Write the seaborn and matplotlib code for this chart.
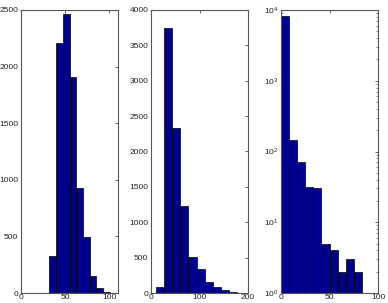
import numpy as np
import pandas as pd
import matplotlib
matplotlib.use("Agg")
import matplotlib.pyplot as plt
import seaborn as sns

# Panel 1 (linear)
edges1 = [32.3 + 7.59 * i for i in range(11)]
counts1 = [323, 2205, 2462, 1912, 926, 491, 153, 41, 12, 4]
# Panel 2 (linear)
edges2 = [9.7 + 16.85 * i for i in range(11)]
counts2 = [85, 3739, 2329, 1223, 503, 339, 151, 85, 38, 14]
# Panel 3 (log y)
edges3 = [0 + 8.35 * i for i in range(11)]
counts3 = [8220, 147, 72, 32, 30, 5, 4, 2, 3, 2]

sns.set_style("white")
plt.rcParams['font.family'] = ['Liberation Sans', 'DejaVu Sans']
plt.rcParams['font.size'] = 6
plt.rcParams['mathtext.fontset'] = 'custom'
plt.rcParams['mathtext.rm'] = 'Liberation Sans'

fig = plt.figure(figsize=(3.88, 3.03), dpi=100)
W, H = 388, 303
def add_ax(x0, x1, y0=10, y1=293):
    return fig.add_axes([x0 / W, (H - y1) / H, (x1 - x0) / W, (y1 - y0) / H])

ax1 = add_ax(21, 118)
ax2 = add_ax(151, 248)
ax3 = add_ax(281, 378)

face = (0.0, 0.0, 0.56)

def centers(e):
    return [(e[i] + e[i + 1]) / 2 for i in range(len(e) - 1)]

for ax, e, c in [(ax1, edges1, counts1), (ax2, edges2, counts2), (ax3, edges3, counts3)]:
    df = pd.DataFrame({"x": centers(e), "w": c})
    if ax is ax3:
        ax.set_yscale("log")
    sns.histplot(data=df, x="x", weights="w", bins=e, ax=ax, color=face,
                 edgecolor="black", linewidth=0.5, alpha=1.0, legend=False)
    ax.set_xlabel("")
    ax.set_ylabel("")
    for s in ax.spines.values():
        s.set_color("#555555")
        s.set_linewidth(0.8)
    ax.tick_params(direction="in", top=True, right=True, length=2.5, width=0.5,
                   labelsize=6, pad=2, colors="#222222")
    ax.tick_params(axis="x", pad=0.8)
    ax.tick_params(which="minor", direction="in", right=True, left=True, length=1.5, width=0.4)
    ax.grid(False)

ax1.set_xlim(0, 110)
ax1.set_ylim(0, 2500)
ax1.set_xticks([0, 50, 100])
ax1.set_yticks([0, 500, 1000, 1500, 2000, 2500])

ax2.set_xlim(0, 200)
ax2.set_ylim(0, 4000)
ax2.set_xticks([0, 100, 200])
ax2.set_yticks(list(range(0, 4001, 500)))

ax3.set_xlim(0, 100)
ax3.set_ylim(1, 1e4)
ax3.set_xticks([0, 50, 100])
ax3.set_yticks([1, 10, 100, 1000, 10000])

fig.savefig("out.png", dpi=100)
